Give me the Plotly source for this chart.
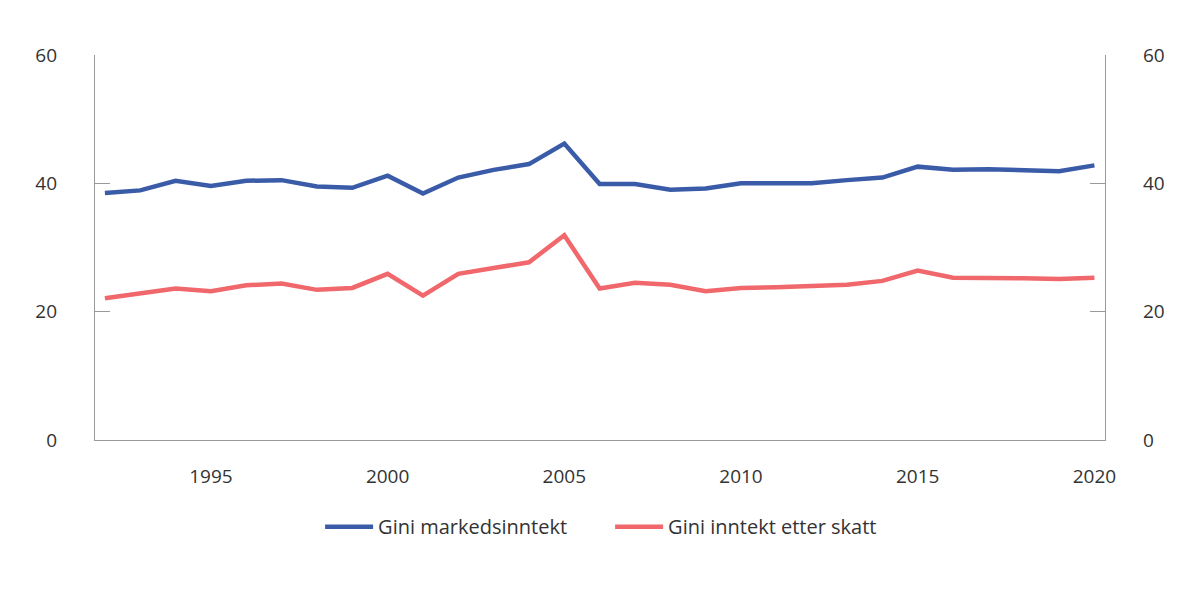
import plotly.graph_objects as go

years = list(range(1992, 2021))

gini_marked = [38.5, 38.9, 40.4, 39.6, 40.4, 40.5, 39.5, 39.3, 41.2, 38.4,
               40.9, 42.1, 43.0, 46.2, 39.9, 39.9, 39.0, 39.2, 40.0, 40.0,
               40.0, 40.5, 40.9, 42.6, 42.1, 42.2, 42.1, 41.9, 42.8]

gini_skatt = [22.1, 22.8, 23.6, 23.2, 24.1, 24.4, 23.4, 23.7, 25.9, 22.5,
              25.9, 26.8, 27.7, 31.9, 23.6, 24.5, 24.2, 23.2, 23.7, 23.8,
              24.0, 24.2, 24.8, 26.4, 25.3, 25.3, 25.2, 25.1, 25.3]

y_ticks = [0, 20, 40, 60]
x_ticks = [1995, 2000, 2005, 2010, 2015, 2020]

BLUE = "#3a5ba8"
RED = "#f0686b"
AXIS = "#9a9a9a"
TEXT = "#333333"
FONT = "Open Sans"

fig = go.Figure()

fig.add_trace(go.Scatter(
    x=years, y=gini_marked, mode="lines", name="Gini markedsinntekt",
    line=dict(color=BLUE, width=4.5)
))
fig.add_trace(go.Scatter(
    x=years, y=gini_skatt, mode="lines", name="Gini inntekt etter skatt",
    line=dict(color=RED, width=4.5)
))
# invisible trace so the right-hand axis is drawn
fig.add_trace(go.Scatter(
    x=years, y=gini_marked, yaxis="y2", mode="lines",
    line=dict(width=0), showlegend=False, hoverinfo="skip", opacity=0
))

axis_common = dict(
    range=[0, 60], tickvals=y_ticks, showgrid=False, zeroline=False,
    showline=True, linecolor=AXIS, linewidth=1.3,
    ticks="inside", ticklen=15, tickcolor=AXIS, tickwidth=1.3,
    tickfont=dict(family=FONT, size=19, color=TEXT),
    ticklabelstandoff=33,
)

fig.update_layout(
    width=1200, height=598,
    margin=dict(l=87, r=103, t=47, b=166),
    paper_bgcolor="white", plot_bgcolor="white",
    font=dict(family=FONT, size=19, color=TEXT),
    xaxis=dict(
        range=[1991.72, 2020.3], tickvals=x_ticks, showgrid=False,
        zeroline=False, showline=True, linecolor=AXIS, linewidth=1.3,
        ticks="", ticklabelstandoff=19,
        tickfont=dict(family=FONT, size=19, color=TEXT),
    ),
    yaxis=axis_common,
    yaxis2=dict(axis_common, overlaying="y", side="right"),
    legend=dict(
        orientation="h", x=0.51, xanchor="center", y=-0.225, yanchor="middle",
        font=dict(family=FONT, size=20, color=TEXT),
        itemwidth=48, entrywidth=227, entrywidthmode="pixels",
    ),
    showlegend=True,
)

fig.write_html("out.html")
